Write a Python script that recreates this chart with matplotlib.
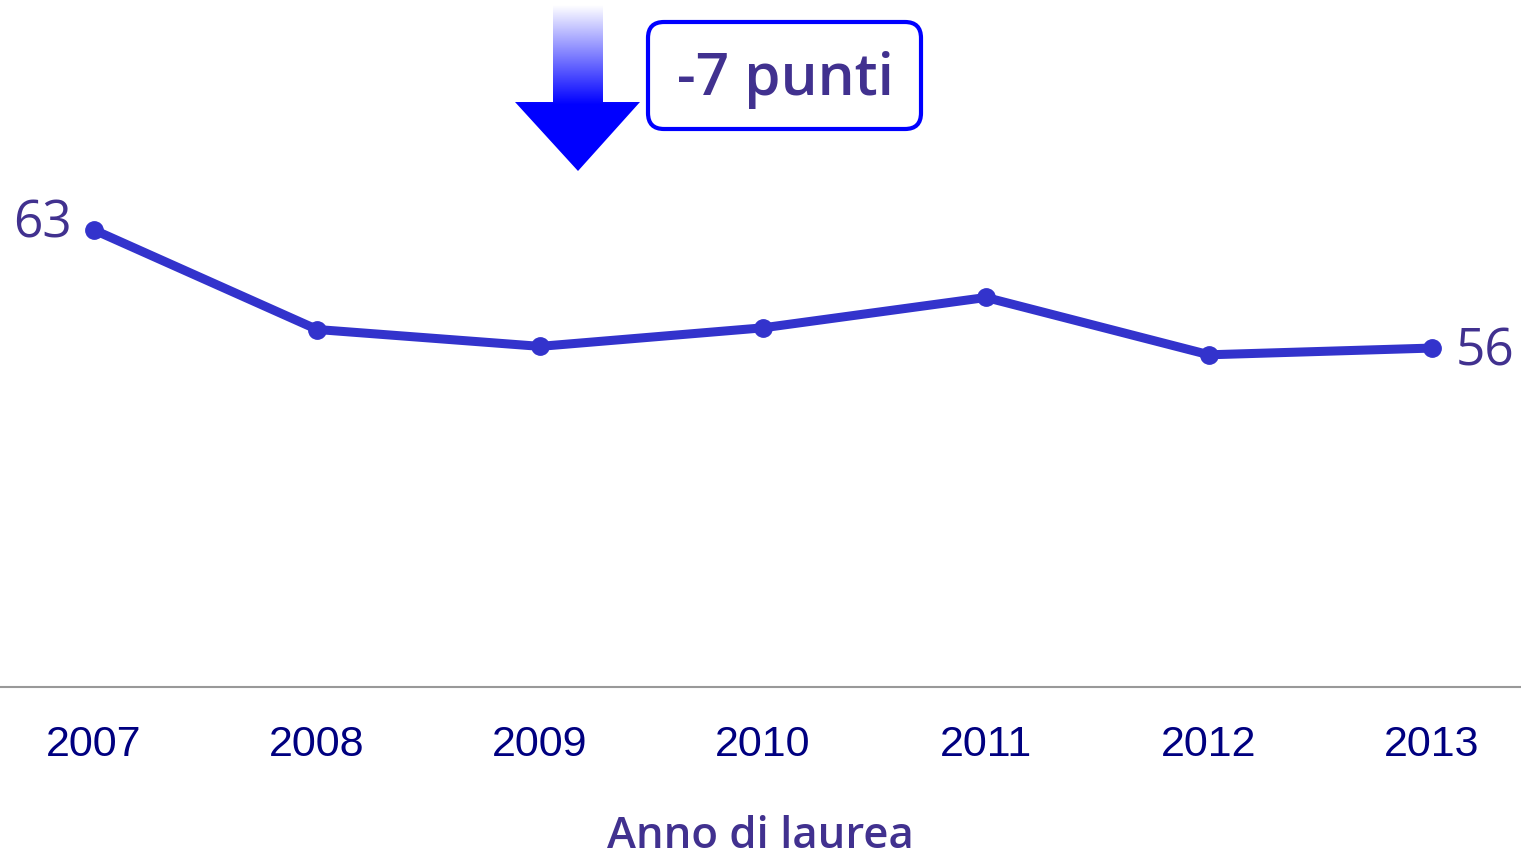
import matplotlib
matplotlib.use('Agg')
import matplotlib.pyplot as plt
import numpy as np
from matplotlib.patches import FancyBboxPatch, Polygon

anni = [2007, 2008, 2009, 2010, 2011, 2012, 2013]
valori = [63.0, 57.1, 56.1, 57.2, 59.0, 55.6, 56.0]
etichetta_var = '-7 punti'
titolo_x = 'Anno di laurea'

col_linea = '#3333CC'
col_testo = '#41318F'
col_tick = '#000080'

fig = plt.figure(figsize=(15.21, 8.51), dpi=100)
ax = fig.add_axes([0, 1 - 687 / 851, 1, 687 / 851])

ax.plot(anni, valori, '-o', color=col_linea, linewidth=6.5, markersize=12.5,
        solid_capstyle='round', zorder=3)
ax.set_xlim(2006.578, 2013.399)
ax.set_ylim(35.9, 76.64)

for s in ['top', 'right', 'left']:
    ax.spines[s].set_visible(False)
ax.spines['bottom'].set_color('#999999')
ax.spines['bottom'].set_linewidth(1.5)
ax.set_yticks([])
ax.set_xticks(anni)
ax.set_xticklabels([str(a) for a in anni], fontsize=31, color=col_tick,
                   family='Liberation Sans')
ax.tick_params(axis='x', length=0, pad=27)
ax.set_xlabel(titolo_x, fontsize=31.5, color=col_testo, family='Open Sans',
              weight=600, labelpad=36)

# etichette primo e ultimo valore
ax.annotate(f'{valori[0]:.0f}', (anni[0], valori[0]), xytext=(-22, 6),
            textcoords='offset pixels', ha='right', va='center',
            fontsize=37, color=col_testo, family='Open Sans')
ax.annotate(f'{valori[-1]:.0f}', (anni[-1], valori[-1]), xytext=(24, -4),
            textcoords='offset pixels', ha='left', va='center',
            fontsize=37, color=col_testo, family='Open Sans')

# overlay in pixel per freccia e riquadro
ov = fig.add_axes([0, 0, 1, 1])
ov.set_xlim(0, 1521)
ov.set_ylim(851, 0)
ov.axis('off')

# freccia sfumata
grad = np.linspace(0, 1, 256).reshape(-1, 1)
cmap = matplotlib.colors.LinearSegmentedColormap.from_list(
    'g', [(0, '#FFFFFF'), (0.6, '#0000FF'), (1, '#0000FF')])
img = ov.imshow(grad, cmap=cmap, extent=[515, 640, 171, 5], aspect='auto',
                interpolation='bilinear', zorder=2)
freccia = Polygon([[553, 5], [603, 5], [603, 102], [640, 102], [578, 171],
                   [515, 102], [553, 102]], closed=True, facecolor='none',
                  edgecolor='none', transform=ov.transData)
ov.add_patch(freccia)
img.set_clip_path(freccia)

box = FancyBboxPatch((648, 22), 273, 107,
                     boxstyle='round,pad=0,rounding_size=16',
                     facecolor='white', edgecolor='#0000FF', linewidth=3)
ov.add_patch(box)
ov.text(785, 80, etichetta_var, ha='center', va='center', fontsize=42,
        color=col_testo, family='Open Sans', weight=600)

fig.savefig('out.png', dpi=100)
